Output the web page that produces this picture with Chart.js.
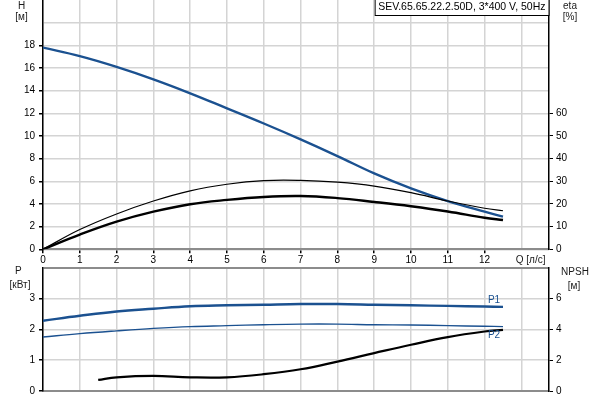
<!DOCTYPE html>
<html>
<head>
<meta charset="utf-8">
<script src="https://cdn.jsdelivr.net/npm/chart.js@4.4.0/dist/chart.umd.min.js"></script>
<style>
  html, body { margin: 0; padding: 0; background: #fff; }
  #wrap { position: relative; width: 600px; height: 400px; overflow: hidden; }
  canvas { position: absolute; left: 0; }
  #top { top: 0; }
  #bottom { top: 262px; }
</style>
</head>
<body>
<div id="wrap">
  <canvas id="top" width="600" height="272"></canvas>
  <canvas id="bottom" width="600" height="138"></canvas>
</div>
<script>
// Q [л/с] points
const flowQ = [0, 1, 2, 3, 4, 5, 6, 7, 8, 9, 10, 11, 12, 12.5];
// H [м]
const headH = [17.8, 17.05, 16.1, 15.0, 13.77, 12.44, 11.1, 9.7, 8.23, 6.7, 5.38, 4.26, 3.32, 2.88];
// eta [%]
const etaPump = [0, 8.7, 15.6, 21.3, 25.8, 28.7, 30.3, 30.4, 29.6, 27.9, 25.0, 21.3, 18.1, 17.0];
const etaTotal = [0, 6.5, 12.2, 16.6, 19.9, 21.8, 23.1, 23.5, 22.6, 20.9, 19.0, 16.7, 13.9, 12.9];
// P [кВт]
const powerP1 = [2.28, 2.44, 2.58, 2.67, 2.75, 2.78, 2.80, 2.82, 2.82, 2.80, 2.78, 2.76, 2.74, 2.73];
const powerP2 = [1.75, 1.86, 1.95, 2.03, 2.09, 2.12, 2.15, 2.17, 2.17, 2.15, 2.14, 2.12, 2.10, 2.09];
// NPSH [м]
const npshQ = [1.5, 2, 3, 4, 5, 6, 7, 8, 9, 10, 11, 12, 12.5];
const npshVal = [0.72, 0.89, 0.98, 0.89, 0.89, 1.09, 1.41, 1.91, 2.46, 3.0, 3.5, 3.86, 3.97];

const titleText = "SEV.65.65.22.2.50D, 3*400 V, 50Hz";

const FONT = { family: "'Liberation Sans', Arial, sans-serif", size: 10 };
const FONT_CSS = "10px 'Liberation Sans', Arial, sans-serif";
const BLUE = "#1b5190";
const GRID = "#d4d4d4";
const NONE = "rgba(0,0,0,0)";

function pts(xs, ys) {
    return xs.map((x, i) => ({ x: x, y: ys[i] }));
}

function line(data, color, width, axis) {
    return {
        data: data, borderColor: color, borderWidth: width, yAxisID: axis,
        pointRadius: 0, fill: false, tension: 0.4
    };
}

// forces fixed axis box sizes so both charts line up
function fixSize(w, h) {
    return s => {
        if (w !== null) s.width = w;
        if (h !== null) s.height = h;
        s.paddingTop = 0; s.paddingBottom = 0; s.paddingLeft = 0; s.paddingRight = 0;
    };
}

function textPlugin(id, draw) {
    return { id: id, afterDraw: chart => {
        const c = chart.ctx;
        c.save();
        c.font = FONT_CSS;
        c.fillStyle = "#1a1a1a";
        c.textBaseline = "middle";
        c.textAlign = "center";
        draw(chart, c);
        c.restore();
    } };
}

// Top chart: H and eta
new Chart(document.getElementById("top"), {
    type: "line",
    data: {
        datasets: [
            line(pts(flowQ, etaPump), "#000", 1.2, "eta"),
            line(pts(flowQ, etaTotal), "#000", 2.4, "eta"),
            line(pts(flowQ, headH), BLUE, 2.4, "y")
        ]
    },
    options: {
        responsive: false, animation: false,
        layout: { padding: 0 },
        plugins: { legend: { display: false }, tooltip: { enabled: false } },
        scales: {
            x: {
                type: "linear", min: 0, max: 13.75,
                ticks: { stepSize: 1, includeBounds: false, autoSkip: false, maxRotation: 0,
                    color: "#000", font: FONT, padding: 1,
                    callback: v => v <= 12 ? v : "" },
                grid: { color: GRID, lineWidth: 1.5, tickLength: 4,
                    tickColor: ctx => ctx.tick && ctx.tick.value <= 12 ? "#000" : NONE },
                border: { color: "#8c8c8c", width: 2 },
                afterFit: fixSize(null, 22.7)
            },
            y: {
                position: "left", min: 0, max: 22,
                ticks: { stepSize: 2, color: "#000", font: FONT, padding: 4,
                    callback: v => v <= 18 ? v : "" },
                grid: { lineWidth: 1.5, tickLength: 4,
                    color: ctx => ctx.tick && ctx.tick.value >= 22 ? NONE : GRID,
                    tickColor: ctx => ctx.tick && ctx.tick.value <= 18 ? "#000" : NONE },
                border: { color: "#000", width: 1.5 },
                afterFit: fixSize(43, null)
            },
            eta: {
                position: "right", min: 0, max: 110,
                ticks: { stepSize: 10, color: "#000", font: FONT, padding: 3,
                    callback: v => v <= 60 ? v : "" },
                grid: { drawOnChartArea: false, tickLength: 4,
                    tickColor: ctx => ctx.tick && ctx.tick.value <= 60 ? "#000" : NONE },
                border: { color: "#000", width: 1.5 },
                afterFit: fixSize(51, null)
            }
        }
    },
    plugins: [textPlugin("topText", (chart, c) => {
        const a = chart.chartArea;
        c.fillText("H", 21.5, 6);
        c.fillText("[м]", 21.5, 17.5);
        c.fillText("eta", 570, 6);
        c.fillText("[%]", 570, 17.5);
        c.textAlign = "right";
        c.fillText("Q [л/с]", a.right - 3.5, 260);
        // title box
        c.textAlign = "left";
        c.font = "10.5px 'Liberation Sans', Arial, sans-serif";
        const w = c.measureText(titleText).width;
        const bx = a.right - w - 7;
        c.fillStyle = "#fff";
        c.fillRect(bx, -1, a.right - bx, 16.5);
        c.strokeStyle = "#000";
        c.lineWidth = 1;
        c.strokeRect(bx + 0.5, -1, a.right - bx - 0.5, 16.5);
        c.fillStyle = "#000";
        c.fillText(titleText, bx + 3.5, 7.5);
    })]
});

// Bottom chart: P1, P2 and NPSH
new Chart(document.getElementById("bottom"), {
    type: "line",
    data: {
        datasets: [
            line(pts(flowQ, powerP1), BLUE, 2.4, "y"),
            line(pts(flowQ, powerP2), BLUE, 1.4, "y"),
            line(pts(npshQ, npshVal), "#000", 2.2, "npsh")
        ]
    },
    options: {
        responsive: false, animation: false,
        layout: { padding: { top: 5.7 } },
        plugins: { legend: { display: false }, tooltip: { enabled: false } },
        scales: {
            x: {
                type: "linear", min: 0, max: 13.75,
                ticks: { display: false, stepSize: 1, includeBounds: false },
                grid: { color: GRID, lineWidth: 1.5, drawTicks: false },
                border: { color: "#8c8c8c", width: 2 },
                afterFit: fixSize(null, 9)
            },
            y: {
                position: "left", min: 0, max: 4,
                ticks: { stepSize: 1, color: "#000", font: FONT, padding: 4,
                    callback: v => v <= 3 ? v : "" },
                grid: { lineWidth: ctx => ctx.tick && ctx.tick.value >= 4 ? 2 : 1.5, tickLength: 4,
                    color: ctx => ctx.tick && ctx.tick.value >= 4 ? "#8c8c8c" : GRID,
                    tickColor: ctx => ctx.tick && ctx.tick.value <= 3 ? "#000" : NONE },
                border: { color: "#000", width: 1.5 },
                afterFit: fixSize(43, null)
            },
            npsh: {
                position: "right", min: 0, max: 8,
                ticks: { stepSize: 2, color: "#000", font: FONT, padding: 3,
                    callback: v => v <= 6 ? v : "" },
                grid: { drawOnChartArea: false, tickLength: 4,
                    tickColor: ctx => ctx.tick && ctx.tick.value <= 6 ? "#000" : NONE },
                border: { color: "#000", width: 1.5 },
                afterFit: fixSize(51, null)
            }
        }
    },
    plugins: [textPlugin("bottomText", (chart, c) => {
        const sx = chart.scales.x, sy = chart.scales.y;
        c.fillText("P", 18.3, 9.7);
        c.fillText("[кВт]", 20, 23);
        c.fillText("NPSH", 575, 10.3);
        c.fillText("[м]", 574, 23.8);
        const lx = sx.getPixelForValue(flowQ[flowQ.length - 1]) - 9;
        c.fillStyle = BLUE;
        c.fillText("P1", lx, sy.getPixelForValue(powerP1[powerP1.length - 1]) - 7);
        c.fillText("P2", lx, sy.getPixelForValue(powerP2[powerP2.length - 1]) + 9);
    })]
});
</script>
</body>
</html>
